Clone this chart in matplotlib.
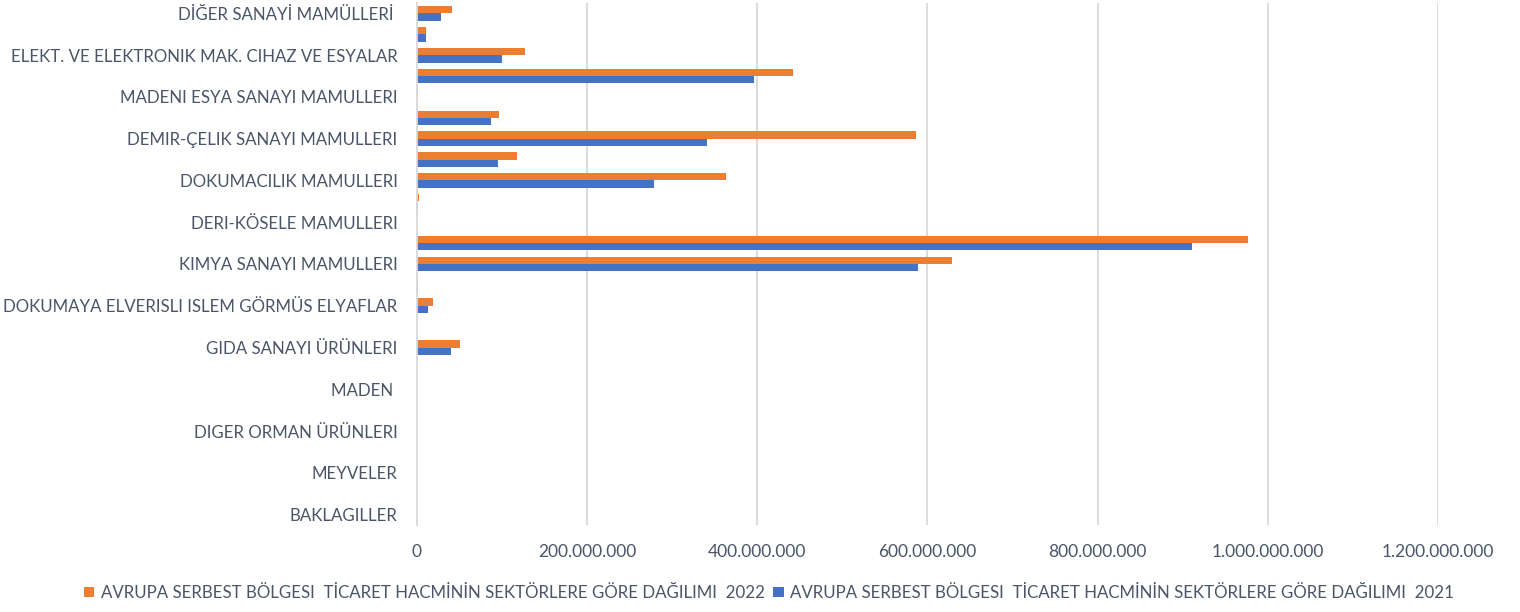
import matplotlib
matplotlib.use("Agg")
import matplotlib.pyplot as plt
from matplotlib.ticker import FuncFormatter
import numpy as np

# Categories in data order (first one is drawn at the bottom)
categories = [
    "BAKLAGILLER",
    "SEBZELER",
    "MEYVELER",
    "SERT KABUKLU MEYVELER",
    "DIGER ORMAN ÜRÜNLERI",
    "SU ÜRÜNLERI",
    "MADEN ",
    "TAS OCAKÇILIGI ÜRÜNLERI",
    "GIDA SANAYI ÜRÜNLERI",
    "TÜTÜN MAMULLERI",
    "DOKUMAYA ELVERISLI ISLEM GÖRMÜS ELYAFLAR",
    "AGAÇ MAMULLERI VE ORMAN ÜRÜNLERI",
    "KIMYA SANAYI MAMULLERI",
    "LASTIK VE PLASTIK MAMULLERI",
    "DERI-KÖSELE MAMULLERI",
    "ORMAN ÜRÜNLERI SANAYI MAMULLERI",
    "DOKUMACILIK MAMULLERI",
    "TOPRAK SANAYI MAMULLERI",
    "DEMIR-ÇELIK SANAYI MAMULLERI",
    "DEMIR DISI METALLER SANAYI",
    "MADENI ESYA SANAYI MAMULLERI",
    "MAKINE SANAYI MAMULLERI",
    "ELEKT. VE ELEKTRONIK MAK. CIHAZ VE ESYALAR",
    "MOTORLU KARA TASITLARI",
    "DİĞER SANAYİ MAMÜLLERİ ",
]

values_2022 = [
    0, 0, 0, 0, 0, 0, 0, 0,
    50.5e6, 0, 18.8e6, 1.5e6, 629e6, 977e6, 0, 2.7e6,
    363e6, 117.4e6, 586e6, 96.7e6, 1.5e6, 442e6, 127e6, 10.2e6, 40.7e6,
]
values_2021 = [
    0, 0, 0, 0, 0, 0, 0, 0,
    39.5e6, 0, 12.5e6, 1.2e6, 588.7e6, 910.5e6, 0, 1.5e6,
    278e6, 95e6, 340.6e6, 86.5e6, 0, 396e6, 100e6, 10e6, 28.6e6,
]

series_labels = [
    "AVRUPA SERBEST BÖLGESI  TİCARET HACMİNİN SEKTÖRLERE GÖRE DAĞILIMI  2022",
    "AVRUPA SERBEST BÖLGESI  TİCARET HACMİNİN SEKTÖRLERE GÖRE DAĞILIMI  2021",
]
x_ticks = [0, 200e6, 400e6, 600e6, 800e6, 1000e6, 1200e6]

ORANGE = "#ED7D31"
BLUE = "#4472C4"
TEXT = "#4A5568"
GRID = "#D9D9D9"

plt.rcParams["font.family"] = ["Lato", "DejaVu Sans"]

W, H = 1520, 612
fig = plt.figure(figsize=(W / 100, H / 100), dpi=100)
ax = fig.add_axes([417 / W, 1 - 525 / H, (1438 - 417) / W, (525 - 3) / H])

y = np.arange(len(categories))
h = 0.35
ax.barh(y + h / 2, values_2022, height=h, color=ORANGE, label=series_labels[0], zorder=3)
ax.barh(y - h / 2, values_2021, height=h, color=BLUE, label=series_labels[1], zorder=3)

ax.set_ylim(-0.5, len(categories) - 0.5)
ax.set_xlim(0, x_ticks[-1])
ax.set_xticks(x_ticks)
ax.xaxis.set_major_formatter(FuncFormatter(lambda v, p: f"{int(round(v)):,}".replace(",", ".")))
ax.set_yticks(y[::2])
ax.set_yticklabels([categories[i] for i in y[::2]])

ax.tick_params(axis="y", length=0, pad=14, labelsize=12.2, labelcolor=TEXT)
ax.tick_params(axis="x", length=0, pad=14, labelsize=12.5, labelcolor=TEXT)

ax.grid(axis="x", color=GRID, linewidth=1.3, zorder=0)
ax.set_axisbelow(True)
for s in ("top", "right", "bottom"):
    ax.spines[s].set_visible(False)
ax.spines["left"].set_color(GRID)
ax.spines["left"].set_linewidth(1.3)
ax.spines["left"].set_zorder(4)

leg = fig.legend(
    loc="center",
    bbox_to_anchor=(0.506, 1 - 593 / H),
    ncol=2,
    frameon=False,
    handlelength=0.6,
    handleheight=0.6,
    handletextpad=0.4,
    columnspacing=0.5,
    fontsize=12.2,
)
for t in leg.get_texts():
    t.set_color(TEXT)

fig.savefig("out.png", dpi=100, facecolor="white")
